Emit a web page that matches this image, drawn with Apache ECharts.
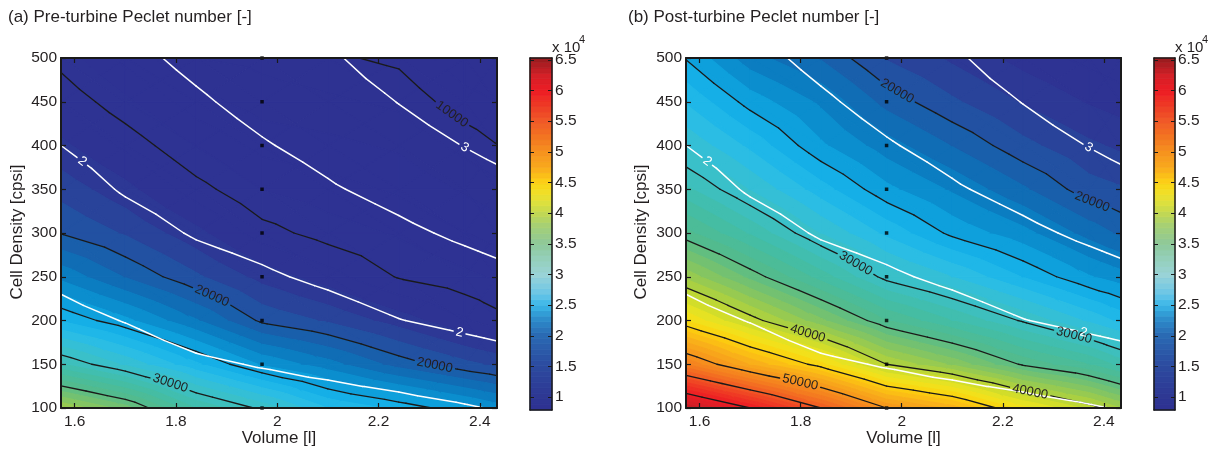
<!DOCTYPE html>
<html><head><meta charset="utf-8">
<script src="https://cdn.jsdelivr.net/npm/echarts@6/dist/echarts.min.js"></script>
<style>html,body{margin:0;padding:0;background:#fff}#c{width:1219px;height:452px}</style>
</head><body><div id="c"></div>
<script>
// ---------------- DATA ----------------
const volumes = [1.573, 1.7, 1.84, 1.97, 2.1, 2.24, 2.37, 2.434];          // Volume [l]
const cellDensities = [100, 150, 200, 250, 300, 350, 400, 450, 500];      // Cell density [cpsi]
// Pre-turbine Peclet number, one row per volume, values along cellDensities
const pecletPre = [
  [39000, 31100, 25900, 22700, 19950, 18600, 17250, 15900, 14550],
  [36500, 28800, 24270, 20930, 18880, 17330, 15780, 14220, 12670],
  [32000, 26200, 22100, 19180, 17310, 15450, 13900, 12400, 11000],
  [29700, 23850, 19780, 17630, 15470, 13970, 12660, 11500, 10700],
  [27000, 22400, 18850, 16440, 14500, 13400, 12300, 11200, 10200],
  [25700, 20580, 17520, 14900, 13860, 12830, 11800, 10760, 9750],
  [24300, 19300, 16140, 14230, 13030, 11840, 10650, 9400, 8300],
  [23500, 18780, 15400, 13870, 12590, 11310, 10030, 9000, 8000]
];
// Post-turbine Peclet number
const pecletPost = [
  [64000, 51960, 44000, 38680, 34320, 31230, 28830, 26880, 24920],
  [60000, 47900, 40600, 35670, 31840, 28910, 26740, 24570, 22400],
  [55000, 44340, 37240, 32540, 28950, 26440, 24180, 22800, 20900],
  [50000, 40000, 34060, 29600, 26720, 24270, 22450, 20620, 18900],
  [47600, 37800, 32000, 27990, 24730, 22840, 20950, 19170, 17800],
  [43400, 34800, 29840, 25940, 23340, 21160, 19300, 17900, 16600],
  [40700, 33020, 27800, 24100, 21600, 19440, 18200, 16900, 15700],
  [39000, 31600, 26700, 23420, 20790, 19100, 17800, 16500, 15300]
];
// Quantity drawn with the white contours (same in both panels)
const whiteField = [
  [1.12, 1.26, 1.41, 1.56, 1.70, 1.85, 2.00, 2.14, 2.29],
  [1.16, 1.33, 1.51, 1.68, 1.86, 2.03, 2.15, 2.27, 2.40],
  [1.26, 1.45, 1.65, 1.84, 2.03, 2.17, 2.31, 2.45, 2.59],
  [1.30, 1.52, 1.73, 1.95, 2.13, 2.30, 2.47, 2.62, 2.75],
  [1.34, 1.59, 1.84, 2.07, 2.26, 2.46, 2.62, 2.78, 2.94],
  [1.39, 1.69, 1.99, 2.21, 2.42, 2.62, 2.82, 3.01, 3.21],
  [1.47, 1.79, 2.09, 2.33, 2.57, 2.79, 3.01, 3.22, 3.44],
  [1.52, 1.84, 2.14, 2.40, 2.64, 2.87, 3.10, 3.33, 3.56]
];
const blackLevels = [10000, 15000, 20000, 25000, 30000, 35000, 40000, 45000, 50000, 55000, 60000];
const whiteLevels = [1.5, 2, 2.5, 3];
const xTicks = [1.6, 1.8, 2, 2.2, 2.4];
const colorbarTicks = [10000, 15000, 20000, 25000, 30000, 35000, 40000, 45000, 50000, 55000, 60000, 65000];
const colorbarRange = [7900, 65300];
const dotVolume = 1.97;
const dotDensities = [100, 150, 200, 250, 300, 350, 400, 450, 500];
// contour labels: [level, volume at which the label sits]
const labelsPre = [[10000, 2.345], [20000, 1.871], [20000, 2.311], [30000, 1.789]];
const labelsPost = [[20000, 1.991], [20000, 2.377], [30000, 1.909], [30000, 2.341], [40000, 1.814], [40000, 2.254], [50000, 1.799]];
const labelsWhite = [[2, 1.615], [2, 2.36], [3, 2.37]];
const titles = ['(a) Pre-turbine Peclet number [-]', '(b) Post-turbine Peclet number [-]'];

// ---------------- helpers ----------------
const chart = echarts.init(document.getElementById('c'), null, {renderer: 'canvas'});
const FONT = "'Liberation Sans', Arial, Helvetica, sans-serif";
const TXT = '#231f20';
const BAND = 1000;
const xMin = volumes[0], xMax = volumes[volumes.length - 1];
// colour map used for the filled contours
const fillStops = [
  [7900, '#2e3192'], [16500, '#2e3393'], [18000, '#2c3b96'], [19000, '#264a9e'], [20000, '#1d57a6'],
  [21000, '#1466af'], [22000, '#0c74bb'], [23000, '#0a85c7'], [24000, '#0b96d5'], [25000, '#11a9e3'],
  [26000, '#19b4ea'], [27500, '#2bbde4'], [29000, '#38c0cf'], [30500, '#3ebfbd'], [32000, '#42bda8'],
  [34500, '#52bb8e'], [37000, '#7bc36a'], [39000, '#a0cc48'], [41000, '#c8da2e'], [43000, '#eee41f'],
  [45000, '#fdd20e'], [47500, '#f9b01a'], [50000, '#f7941d'], [52500, '#f47b20'], [55000, '#f15a24'],
  [58000, '#ee3424'], [60000, '#ed1c24'], [63000, '#d21f27'], [65300, '#9e1f22']
];
// the colour bar of the reference is drawn a little paler in the cyan/green part
const barStops = [
  [7900, '#2e3192'], [10000, '#2e3793'], [15000, '#2c4a9f'], [20000, '#2a69b3'], [23000, '#2e90cd'],
  [25000, '#3ab7e8'], [27000, '#6cc6e6'], [30000, '#9ad3d7'], [33000, '#93cfb5'], [35000, '#8ec89a'],
  [38000, '#a6d074'], [40000, '#c2d852'], [42000, '#e2e23a'], [44000, '#f6dc1e'], [45000, '#fcd116'],
  [47500, '#f9a91d'], [50000, '#f6921e'], [52500, '#f37421'], [55000, '#f05a28'], [57500, '#ee3b25'],
  [60000, '#ed1c24'], [62500, '#d32027'], [65300, '#951b1e']
];
function hex2rgb(h) { return [parseInt(h.slice(1, 3), 16), parseInt(h.slice(3, 5), 16), parseInt(h.slice(5, 7), 16)]; }
function cmapOf(stops, v) {
  if (v <= stops[0][0]) return stops[0][1];
  for (let k = 1; k < stops.length; k++) {
    if (v <= stops[k][0]) {
      const a = stops[k - 1], b = stops[k];
      const t = (v - a[0]) / (b[0] - a[0]);
      const ca = hex2rgb(a[1]), cb = hex2rgb(b[1]);
      return 'rgb(' + ca.map((c, i) => Math.round(c + t * (cb[i] - c))).join(',') + ')';
    }
  }
  return stops[stops.length - 1][1];
}
const cmap = v => cmapOf(fillStops, v);
function triangles(field) {
  const tris = [];
  for (let i = 0; i < volumes.length - 1; i++) {
    for (let j = 0; j < cellDensities.length - 1; j++) {
      const a = {x: volumes[i], y: cellDensities[j], v: field[i][j]};
      const b = {x: volumes[i + 1], y: cellDensities[j], v: field[i + 1][j]};
      const c = {x: volumes[i + 1], y: cellDensities[j + 1], v: field[i + 1][j + 1]};
      const d = {x: volumes[i], y: cellDensities[j + 1], v: field[i][j + 1]};
      const m = {x: (a.x + b.x) / 2, y: (a.y + d.y) / 2, v: (a.v + b.v + c.v + d.v) / 4};
      tris.push([a, b, m], [b, c, m], [c, d, m], [d, a, m]);
    }
  }
  return tris;
}
function clipPoly(poly, L, above) {
  const out = [];
  for (let k = 0; k < poly.length; k++) {
    const p = poly[k], q = poly[(k + 1) % poly.length];
    const pin = above ? p.v >= L : p.v <= L;
    const qin = above ? q.v >= L : q.v <= L;
    if (pin) out.push(p);
    if (pin !== qin) {
      const t = (L - p.v) / (q.v - p.v);
      out.push({x: p.x + t * (q.x - p.x), y: p.y + t * (q.y - p.y), v: L});
    }
  }
  return out;
}
function bands(tris) {
  const polys = [];
  tris.forEach(tri => {
    const vs = tri.map(p => p.v);
    const lo0 = Math.floor(Math.min(...vs) / BAND) * BAND, hi0 = Math.max(...vs);
    for (let lo = lo0; lo < hi0; lo += BAND) {
      let poly = clipPoly(tri, lo, true);
      if (poly.length >= 3) poly = clipPoly(poly, lo + BAND, false);
      if (poly.length >= 3) polys.push({pts: poly, color: cmap(lo + BAND / 2)});
    }
  });
  return polys;
}
function segments(tris, levels) {
  const segs = [];
  tris.forEach(tri => {
    levels.forEach(L => {
      const pts = [];
      for (let k = 0; k < 3; k++) {
        const p = tri[k], q = tri[(k + 1) % 3];
        if ((p.v >= L) !== (q.v >= L)) {
          const t = (L - p.v) / (q.v - p.v);
          pts.push([p.x + t * (q.x - p.x), p.y + t * (q.y - p.y)]);
        }
      }
      if (pts.length === 2) segs.push({L: L, a: pts[0], b: pts[1]});
    });
  });
  return segs;
}
function contourY(segs, L, x) {
  let best = null;
  segs.forEach(s => {
    if (s.L !== L || best !== null) return;
    const x1 = Math.min(s.a[0], s.b[0]), x2 = Math.max(s.a[0], s.b[0]);
    if (x >= x1 && x <= x2 && x2 - x1 > 1e-9) {
      const t = (x - s.a[0]) / (s.b[0] - s.a[0]);
      best = s.a[1] + t * (s.b[1] - s.a[1]);
    }
  });
  return best;
}
function makeLabels(segs, list, color) {
  return list.map(([L, x]) => {
    const y = contourY(segs, L, x);
    const yA = contourY(segs, L, x - 0.03), yB = contourY(segs, L, x + 0.03);
    return {L: L, x: x, y: y, xa: x - 0.03, ya: yA === null ? y : yA, xb: x + 0.03, yb: yB === null ? y : yB,
            text: String(L), color: color};
  }).filter(l => l.y !== null);
}
function clipSeg(a, b, circles) {
  let pieces = [[a, b]];
  circles.forEach(c => {
    const next = [];
    pieces.forEach(([p, q]) => {
      const dx = q[0] - p[0], dy = q[1] - p[1];
      const fx = p[0] - c.x, fy = p[1] - c.y;
      const A = dx * dx + dy * dy, B = 2 * (fx * dx + fy * dy), C = fx * fx + fy * fy - c.r * c.r;
      const disc = B * B - 4 * A * C;
      if (A < 1e-9 || disc <= 0) { next.push([p, q]); return; }
      const s = Math.sqrt(disc);
      const t1 = (-B - s) / (2 * A), t2 = (-B + s) / (2 * A);
      if (t2 <= 0 || t1 >= 1) { next.push([p, q]); return; }
      if (t1 > 0) next.push([p, [p[0] + t1 * dx, p[1] + t1 * dy]]);
      if (t2 < 1) next.push([[p[0] + t2 * dx, p[1] + t2 * dy], q]);
    });
    pieces = next;
  });
  return pieces;
}

// ---------------- build geometry ----------------
const whiteTris = triangles(whiteField);
const whiteSegs = segments(whiteTris, whiteLevels);
const whiteLabels = makeLabels(whiteSegs, labelsWhite, '#ffffff');
const panels = [pecletPre, pecletPost].map((field, k) => {
  const tris = triangles(field);
  const polys = bands(tris);
  const segs = segments(tris, blackLevels);
  const labels = makeLabels(segs, k === 0 ? labelsPre : labelsPost, TXT);
  return {polys, segs, labels};
});
const CB_STEP = 900;
const cbBands = [];
for (let lo = colorbarRange[0]; lo < colorbarRange[1]; lo += CB_STEP) {
  const hi = Math.min(lo + CB_STEP, colorbarRange[1]);
  cbBands.push([lo, hi, cmapOf(barStops, (lo + hi) / 2)]);
}

// ---------------- layout ----------------
const grids = [
  {left: 61, top: 58, width: 436, height: 350},
  {left: 530, top: 58, width: 22, height: 352},
  {left: 686, top: 58, width: 435, height: 350},
  {left: 1154, top: 58, width: 21, height: 352}
];
const LINE = '#1a1a1a';
const xAxes = [], yAxes = [];
function addPlotAxes(g) {
  const base = {gridIndex: g, type: 'value', min: xMin, max: xMax, z: 10, splitLine: {show: false},
    axisLine: {show: true, onZero: false, lineStyle: {color: LINE, width: 2}},
    axisTick: {show: true, inside: true, length: 5, customValues: xTicks, lineStyle: {color: LINE, width: 1.2}}};
  xAxes.push(Object.assign({}, base, {position: 'bottom',
    axisLabel: {show: true, customValues: xTicks, margin: 6, fontSize: 15.5, color: TXT, fontFamily: FONT,
      formatter: v => String(+(+v).toFixed(1))}}));
  xAxes.push(Object.assign({}, base, {position: 'top', axisLabel: {show: false}}));
  const ybase = {gridIndex: g, type: 'value', min: 100, max: 500, interval: 50, z: 10, splitLine: {show: false},
    axisLine: {show: true, onZero: false, lineStyle: {color: LINE, width: 2}},
    axisTick: {show: true, inside: true, length: 5, lineStyle: {color: LINE, width: 1.2}}};
  yAxes.push(Object.assign({}, ybase, {position: 'left',
    axisLabel: {show: true, margin: 4, fontSize: 15.5, color: TXT, fontFamily: FONT}}));
  yAxes.push(Object.assign({}, ybase, {position: 'right', axisLabel: {show: false}}));
}
function addBarAxes(g) {
  const xb = {gridIndex: g, type: 'value', min: 0, max: 1, z: 10, splitLine: {show: false},
    axisLine: {show: true, onZero: false, lineStyle: {color: LINE, width: 1.5}}, axisTick: {show: false}, axisLabel: {show: false}};
  xAxes.push(Object.assign({}, xb, {position: 'bottom'}));
  xAxes.push(Object.assign({}, xb, {position: 'top'}));
  const yb = {gridIndex: g, type: 'value', min: colorbarRange[0], max: colorbarRange[1], z: 10, splitLine: {show: false},
    axisLine: {show: true, onZero: false, lineStyle: {color: LINE, width: 1.5}},
    axisTick: {show: true, inside: true, length: 4, customValues: colorbarTicks, lineStyle: {color: LINE, width: 1}}};
  yAxes.push(Object.assign({}, yb, {position: 'right',
    axisLabel: {show: true, customValues: colorbarTicks, margin: 3, fontSize: 15.5, color: TXT, fontFamily: FONT,
      formatter: v => String(+(v / 10000).toFixed(1))}}));
  yAxes.push(Object.assign({}, yb, {position: 'left', axisLabel: {show: false}}));
}
addPlotAxes(0); addBarAxes(1); addPlotAxes(2); addBarAxes(3);

const series = [];
panels.forEach((P, k) => {
  const xi = k === 0 ? 0 : 4, yi = k === 0 ? 0 : 4;
  series.push({
    type: 'custom', xAxisIndex: xi, yAxisIndex: yi, silent: true, z: 1, animation: false, progressive: 0,
    data: P.polys.map((p, i) => [p.pts[0].x, p.pts[0].y, i]),
    renderItem: (params, api) => {
      const p = P.polys[params.dataIndex];
      return {type: 'polygon', shape: {points: p.pts.map(q => api.coord([q.x, q.y]))},
        style: {fill: p.color, stroke: p.color, lineWidth: 1.2, lineJoin: 'round'}};
    }
  });
  const lineGroups = [
    {segs: P.segs, labels: P.labels, color: '#1a1a1a', width: 1.3},
    {segs: whiteSegs, labels: whiteLabels, color: '#ffffff', width: 1.5}
  ];
  lineGroups.forEach(G => {
    series.push({
      type: 'custom', xAxisIndex: xi, yAxisIndex: yi, silent: true, z: 3, animation: false, progressive: 0,
      data: G.segs.map((s, i) => [s.a[0], s.a[1], i]),
      renderItem: (params, api) => {
        const s = G.segs[params.dataIndex];
        const a = api.coord(s.a), b = api.coord(s.b);
        const circles = G.labels.filter(l => l.L === s.L).map(l => {
          const c = api.coord([l.x, l.y]);
          return {x: c[0], y: c[1], r: l.text.length * 0.556 * 13 / 2 + 3};
        });
        const pieces = clipSeg(a, b, circles);
        return {type: 'group', children: pieces.map(([p, q]) => ({type: 'line',
          shape: {x1: p[0], y1: p[1], x2: q[0], y2: q[1]},
          style: {stroke: G.color, lineWidth: G.width, lineCap: 'round'}}))};
      }
    });
    series.push({
      type: 'custom', xAxisIndex: xi, yAxisIndex: yi, silent: true, z: 4, animation: false,
      data: G.labels.map((l, i) => [l.x, l.y, i]),
      renderItem: (params, api) => {
        const l = G.labels[params.dataIndex];
        const c = api.coord([l.x, l.y]), pa = api.coord([l.xa, l.ya]), pb = api.coord([l.xb, l.yb]);
        const ang = Math.atan2(pb[1] - pa[1], pb[0] - pa[0]);
        return {type: 'text', x: c[0], y: c[1], rotation: -ang,
          style: {x: 0, y: 0, text: l.text, fill: l.color, font: '13px ' + FONT, align: 'center', verticalAlign: 'middle'}};
      }
    });
  });
  series.push({
    type: 'scatter', xAxisIndex: xi, yAxisIndex: yi, silent: true, z: 5, animation: false, clip: false,
    symbol: 'rect', symbolSize: 3.5, itemStyle: {color: '#000'},
    data: dotDensities.map(d => [dotVolume, d])
  });
  const bi = k === 0 ? 2 : 6;
  series.push({
    type: 'custom', xAxisIndex: bi, yAxisIndex: bi, silent: true, z: 1, animation: false,
    data: cbBands.map((b, i) => [0.5, b[0], i]),
    renderItem: (params, api) => {
      const b = cbBands[params.dataIndex];
      const p0 = api.coord([0, b[0]]), p1 = api.coord([1, b[1]]);
      return {type: 'rect', shape: {x: p0[0], y: p1[1], width: p1[0] - p0[0], height: p0[1] - p1[1]},
        style: {fill: b[2], stroke: b[2], lineWidth: 0.8}};
    }
  });
});

const graphics = [];
const plotCenters = [61 + 218, 686 + 217.5];
const titleLeft = [8, 628];
const yNameX = [17, 641];
const barRight = [552, 1175];
[0, 1].forEach(k => {
  graphics.push({type: 'text', left: titleLeft[k], top: 9, style: {text: titles[k], font: '17px ' + FONT, fill: TXT}});
  graphics.push({type: 'text', x: plotCenters[k], y: 438, style: {text: 'Volume [l]', font: '17px ' + FONT, fill: TXT, align: 'center', verticalAlign: 'middle'}});
  graphics.push({type: 'text', x: yNameX[k], y: 232, rotation: Math.PI / 2, style: {text: 'Cell Density [cpsi]', font: '17px ' + FONT, fill: TXT, align: 'center', verticalAlign: 'middle'}});
  graphics.push({type: 'text', x: barRight[k], y: 48, style: {text: 'x 10', font: '15px ' + FONT, fill: TXT, align: 'left', verticalAlign: 'middle'}});
  graphics.push({type: 'text', x: barRight[k] + 27, y: 40, style: {text: '4', font: '11px ' + FONT, fill: TXT, align: 'left', verticalAlign: 'middle'}});
});

chart.setOption({
  animation: false,
  backgroundColor: '#ffffff',
  textStyle: {fontFamily: FONT},
  grid: grids.map(g => Object.assign({containLabel: false}, g)),
  xAxis: xAxes,
  yAxis: yAxes,
  series: series,
  graphic: graphics
});
</script></body></html>
